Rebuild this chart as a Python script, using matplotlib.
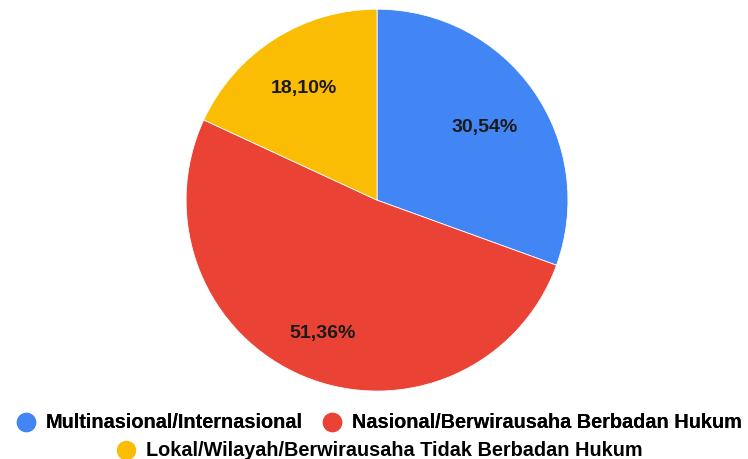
import numpy as np
import matplotlib.pyplot as plt
from matplotlib.lines import Line2D

# data
categories = ["Multinasional/Internasional",
              "Nasional/Berwirausaha Berbadan Hukum",
              "Lokal/Wilayah/Berwirausaha Tidak Berbadan Hukum"]
values = [30.54, 51.36, 18.10]
labels = ["30,54%", "51,36%", "18,10%"]
colors = ["#4285F4", "#EA4335", "#FBBC04"]
label_dist = [0.686, 0.743, 0.707]

plt.rcParams['font.family'] = ['Liberation Sans', 'DejaVu Sans']

fig = plt.figure(figsize=(7.48, 4.59), dpi=100)
ax = fig.add_axes([0.2487, 0.148, 0.5107, 0.832])

wedges, _ = ax.pie(values, colors=colors, startangle=90, counterclock=False,
                   wedgeprops=dict(linewidth=0.6, edgecolor='white'))
for w, lab, d in zip(wedges, labels, label_dist):
    ang = np.deg2rad((w.theta1 + w.theta2) / 2)
    ax.text(d * np.cos(ang), d * np.sin(ang) - 0.012, lab, ha='center', va='center',
            fontsize=14, fontweight='bold', color='#1a1a1a')
ax.set_xlim(-1, 1)
ax.set_ylim(-1, 1)
ax.set_aspect('equal')

handles = [Line2D([], [], marker='o', linestyle='none', markersize=13,
                  markerfacecolor=c, markeredgecolor=c) for c in colors]

leg1 = fig.legend(handles[:2], categories[:2], ncol=2, loc='center',
                  bbox_to_anchor=(379 / 748, 1 - 423 / 459), frameon=False,
                  prop=dict(size=14.3, weight='bold'), handletextpad=0.5,
                  columnspacing=1.0, handlelength=1.0, borderpad=0)
fig.add_artist(leg1)
fig.legend(handles[2:], categories[2:], ncol=1, loc='center',
           bbox_to_anchor=(379 / 748, 1 - 451 / 459), frameon=False,
           prop=dict(size=14.3, weight='bold'), handletextpad=0.5,
           handlelength=1.0, borderpad=0)

fig.savefig("out.png", dpi=100)
